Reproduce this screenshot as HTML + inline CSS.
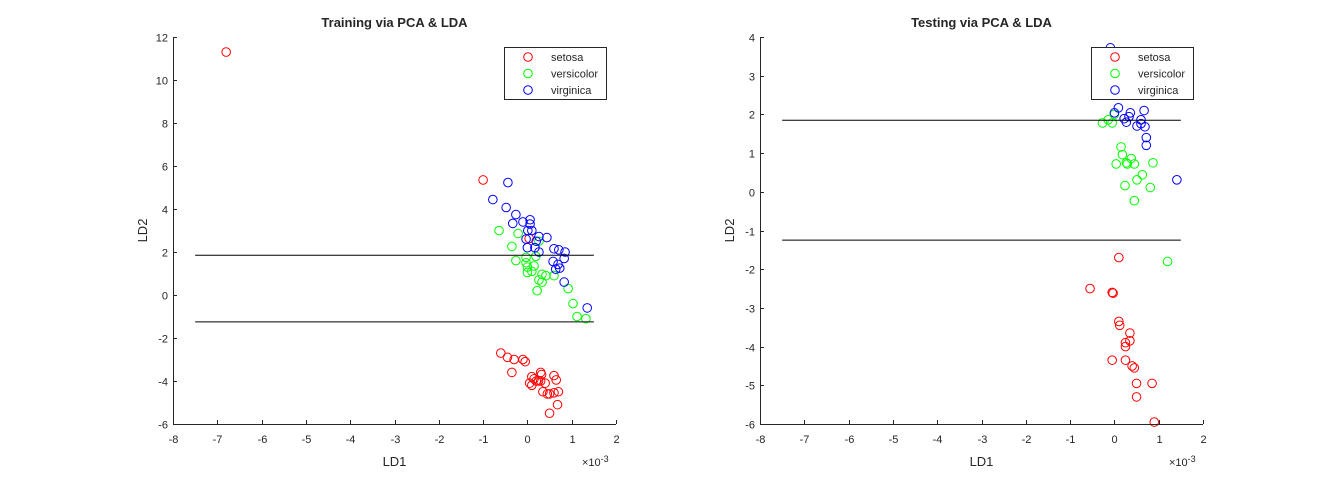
<!DOCTYPE html>
<html><head><meta charset="utf-8"><style>
body{margin:0;background:#fff;}
svg text{font-family:"Liberation Sans",sans-serif;fill:#262626;}
</style></head><body>
<svg id="fig" width="1331" height="478" xmlns="http://www.w3.org/2000/svg"></svg>
<script>
const xTicks=[-8,-7,-6,-5,-4,-3,-2,-1,0,1,2];
const yTicksTrain=[-6,-4,-2,0,2,4,6,8,10,12];
const yTicksTest=[-6,-5,-4,-3,-2,-1,0,1,2,3,4];
const seriesNames=["setosa","versicolor","virginica"];
const seriesColors=["#ff0000","#00ff00","#0000ff"];
const boundaryY=[1.85,-1.25];
const boundaryX=[-7.5,1.5];
const trainSetosaX=[-6.8,-1.0,0.04,-0.6,-0.45,-0.3,-0.35,-0.1,-0.05,0.1,0.15,0.05,0.2,0.3,0.32,0.25,0.4,0.6,0.65,0.5,0.6,0.7,0.45,0.68,0.5,0.1,0.3,0.35];
const trainSetosaY=[11.3,5.35,2.63,-2.7,-2.9,-3.0,-3.6,-3.0,-3.1,-3.8,-3.9,-4.1,-4.0,-3.6,-3.7,-4.0,-4.1,-3.75,-3.95,-4.6,-4.55,-4.5,-4.6,-5.1,-5.5,-4.2,-4.0,-4.5];
const trainVersX=[-0.64,-0.21,-0.35,-0.26,-0.03,-0.03,0,0,0.15,0.1,0.33,0.42,0.6,0.26,0.33,0.22,0.92,1.03,1.12,1.32,0.26,0.19];
const trainVersY=[3.0,2.86,2.26,1.6,1.75,1.5,1.3,1.05,1.35,1.1,0.96,0.9,0.9,0.7,0.6,0.2,0.3,-0.4,-1.0,-1.1,2.5,1.8];
const trainVirgX=[-0.44,-0.78,-0.48,-0.26,-0.33,-0.1,0.06,0.06,0.01,0.1,0.26,0.44,0.0,0.17,0.26,0.6,0.71,0.85,0.83,0.58,0.69,0.64,0.73,0.83,1.35,0.2,-0.03];
const trainVirgY=[5.23,4.44,4.07,3.74,3.33,3.4,3.5,3.3,3.0,3.0,2.72,2.67,2.2,2.2,2.0,2.15,2.1,2.0,1.7,1.56,1.42,1.2,1.25,0.6,-0.6,2.5,2.6];
const testSetosaX=[0.1,-0.55,-0.05,-0.03,0.1,0.12,0.35,0.35,0.25,0.25,-0.05,0.25,0.4,0.45,0.5,0.85,0.5,0.9];
const testSetosaY=[-1.7,-2.5,-2.6,-2.62,-3.35,-3.45,-3.65,-3.85,-3.9,-4.0,-4.35,-4.35,-4.5,-4.55,-4.95,-4.95,-5.3,-5.95];
const testVersX=[0.0,-0.27,-0.14,-0.05,0.15,0.18,0.38,0.27,0.29,0.04,0.45,0.87,0.63,0.51,0.24,0.81,0.45,1.2];
const testVersY=[2.0,1.78,1.86,1.78,1.16,0.96,0.86,0.75,0.72,0.72,0.72,0.75,0.44,0.31,0.16,0.11,-0.23,-1.8];
const testVirgX=[-0.09,0.09,0.0,0.36,0.67,0.22,0.27,0.33,0.6,0.6,0.51,0.69,0.72,0.72,1.41];
const testVirgY=[3.72,2.17,2.04,2.04,2.1,1.89,1.8,1.94,1.86,1.76,1.7,1.68,1.4,1.2,0.31];

const NS="http://www.w3.org/2000/svg";
const svg=document.getElementById('fig');
function mk(tag,attrs,parent){const e=document.createElementNS(NS,tag);for(const k in attrs)e.setAttribute(k,attrs[k]);(parent||svg).appendChild(e);return e;}

function drawAxes(cfg){
  const g=mk('g',{});
  
  
  const L=cfg.left,R=cfg.left+443,T=37,B=424;
  const sx=v=>L+(v-(-8))/(10)*(R-L);
  const sy=v=>B-(v-cfg.ymin)/(cfg.ymax-cfg.ymin)*(B-T);
  cfg.series.forEach((s,si)=>{
    s[0].forEach((x,i)=>{
      const c=mk('circle',{cx:sx(x),cy:sy(s[1][i]),r:4.3,fill:'none',stroke:seriesColors[si],'stroke-width':1},g);
      
      
    });
  });
  boundaryY.forEach(b=>{
    const l=mk('line',{x1:sx(boundaryX[0]),x2:sx(boundaryX[1]),y1:sy(b),y2:sy(b),stroke:'#000','stroke-width':1},g);
    
    
  });
  mk('line',{x1:L,x2:R,y1:B+0.5,y2:B+0.5,stroke:'#262626','stroke-width':1},g);
  mk('line',{x1:L+0.5,x2:L+0.5,y1:T,y2:B,stroke:'#262626','stroke-width':1},g);
  xTicks.forEach(t=>{
    const x=Math.round(sx(t))+0.5;
    mk('line',{x1:x,x2:x,y1:B,y2:B-4,stroke:'#262626'},g);
    const tx=mk('text',{x:x,y:B+19,'text-anchor':'middle','font-size':11},g);tx.textContent=t;
    
    
  });
  cfg.yTicks.forEach(t=>{
    const y=Math.round(sy(t))+0.5;
    mk('line',{x1:L,x2:L+4,y1:y,y2:y,stroke:'#262626'},g);
    const tx=mk('text',{x:L-5,y:y+4,'text-anchor':'end','font-size':11},g);tx.textContent=t;
    
    
  });
  const ex=mk('text',{x:R-34,y:B+42,'font-size':11},g);ex.innerHTML='\u00d710<tspan dy="-4" font-size="9">-3</tspan>';
  
  
  const xt=mk('text',{x:(L+R)/2,y:B+42,'text-anchor':'middle','font-size':13},g);xt.textContent='LD1';
  
  
  const yt=mk('text',{x:0,y:0,'text-anchor':'middle','font-size':13,transform:`translate(${L-26},${(T+B)/2}) rotate(-90)`},g);yt.textContent='LD2';
  
  
  const ti=mk('text',{x:(L+R)/2,y:27,'text-anchor':'middle','font-size':13,'font-weight':'bold'},g);ti.textContent=cfg.title;
  
  
  const lg=mk('g',{},g);
  
  
  mk('rect',{x:cfg.legX+0.5,y:47.5,width:102,height:52,fill:'#fff',stroke:'#262626','stroke-width':1},lg);
  seriesNames.forEach((n,i)=>{
    const yy=57+i*16.5;
    mk('circle',{cx:cfg.legX+24,cy:yy,r:4.3,fill:'none',stroke:seriesColors[i]},lg);
    const t=mk('text',{x:cfg.legX+47,y:yy+4,'font-size':11},lg);t.textContent=n;
    
    
  });
}
drawAxes({name:'training-chart',title:'Training via PCA & LDA',left:173,ymin:-6,ymax:12,yTicks:yTicksTrain,legX:504,
  series:[[trainSetosaX,trainSetosaY],[trainVersX,trainVersY],[trainVirgX,trainVirgY]]});
drawAxes({name:'testing-chart',title:'Testing via PCA & LDA',left:760,ymin:-6,ymax:4,yTicks:yTicksTest,legX:1091,
  series:[[testSetosaX,testSetosaY],[testVersX,testVersY],[testVirgX,testVirgY]]});
</script>
</body></html>
